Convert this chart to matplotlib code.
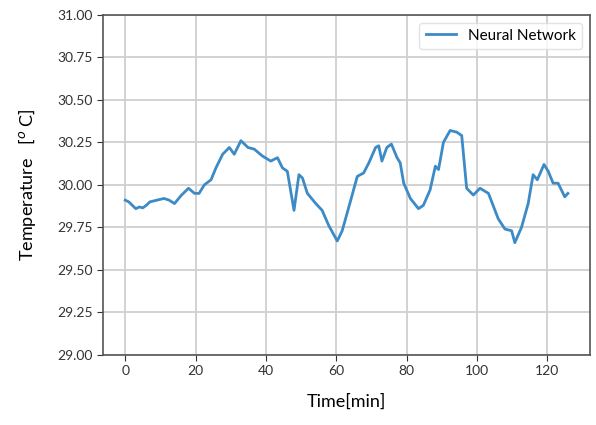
import matplotlib
matplotlib.use("Agg")
import matplotlib.pyplot as plt

time_min = [0, 1, 2, 3, 4, 5, 6, 7, 9, 11, 12.5, 14, 16, 18, 19.7, 21, 22.5, 24.4,
            25.8, 27.7, 29.6, 31, 32.9, 34.9, 36.7, 39, 41.4, 43.3, 44.7, 46.1, 48,
            49.4, 50.4, 51.8, 54.2, 56, 57.9, 60.3, 61.7, 64, 66, 67.8, 69.3, 71.2,
            72.1, 73, 74.4, 75.7, 77.3, 78.2, 79.2, 81.1, 83.4, 84.8, 86.7, 88.2,
            89.1, 90.5, 92.4, 94.3, 95.7, 97.1, 99, 100.9, 103.3, 106.1, 108, 109.9,
            110.8, 112.7, 114.6, 116, 117.2, 119.1, 120.3, 121.7, 123.1, 125, 125.9]
temperature = [29.91, 29.90, 29.88, 29.86, 29.87, 29.865, 29.88, 29.90, 29.91, 29.92,
               29.91, 29.89, 29.94, 29.98, 29.95, 29.95, 30.00, 30.03,
               30.10, 30.18, 30.22, 30.18, 30.26, 30.22, 30.21, 30.17, 30.14, 30.16,
               30.10, 30.08, 29.85, 30.06, 30.04, 29.95, 29.89, 29.85, 29.76, 29.67,
               29.73, 29.90, 30.05, 30.07, 30.13, 30.22, 30.23, 30.14, 30.22, 30.24,
               30.16, 30.13, 30.01, 29.92, 29.86, 29.88, 29.97, 30.11, 30.09, 30.25,
               30.32, 30.31, 30.29, 29.98, 29.94, 29.98, 29.95, 29.80, 29.74, 29.73,
               29.66, 29.75, 29.89, 30.06, 30.03, 30.12, 30.08, 30.01, 30.01, 29.93, 29.95]

x_ticks = [0, 20, 40, 60, 80, 100, 120]
y_ticks = [29.00, 29.25, 29.50, 29.75, 30.00, 30.25, 30.50, 30.75, 31.00]

plt.rcParams['font.family'] = ['Lato', 'DejaVu Sans']

fig = plt.figure(figsize=(5.96, 4.25), dpi=100)
ax = fig.add_axes([0.173, 0.165, 0.817, 0.80])

ax.plot(time_min, temperature, color='#3c8ac6', linewidth=2.0, label='Neural Network')

ax.set_ylim(29.0, 31.0)
ax.set_xticks(x_ticks)
ax.set_yticks(y_ticks)
ax.set_yticklabels([f"{v:.2f}" for v in y_ticks])
ax.grid(True, color='#cfcfcf', linewidth=1.3)
ax.set_axisbelow(True)
for s in ax.spines.values():
    s.set_color('#555555')
    s.set_linewidth(1.2)
ax.tick_params(labelsize=10, colors='#333333', length=4)

ax.set_xlabel('Time[min]', fontsize=13, labelpad=12)
ax.set_ylabel('Temperature   [$^o$ C]', fontsize=13, labelpad=14)

leg = ax.legend(loc='upper right', fontsize=11, frameon=True, fancybox=True)
leg.get_frame().set_edgecolor('#dddddd')

fig.savefig('out.png', dpi=100)
